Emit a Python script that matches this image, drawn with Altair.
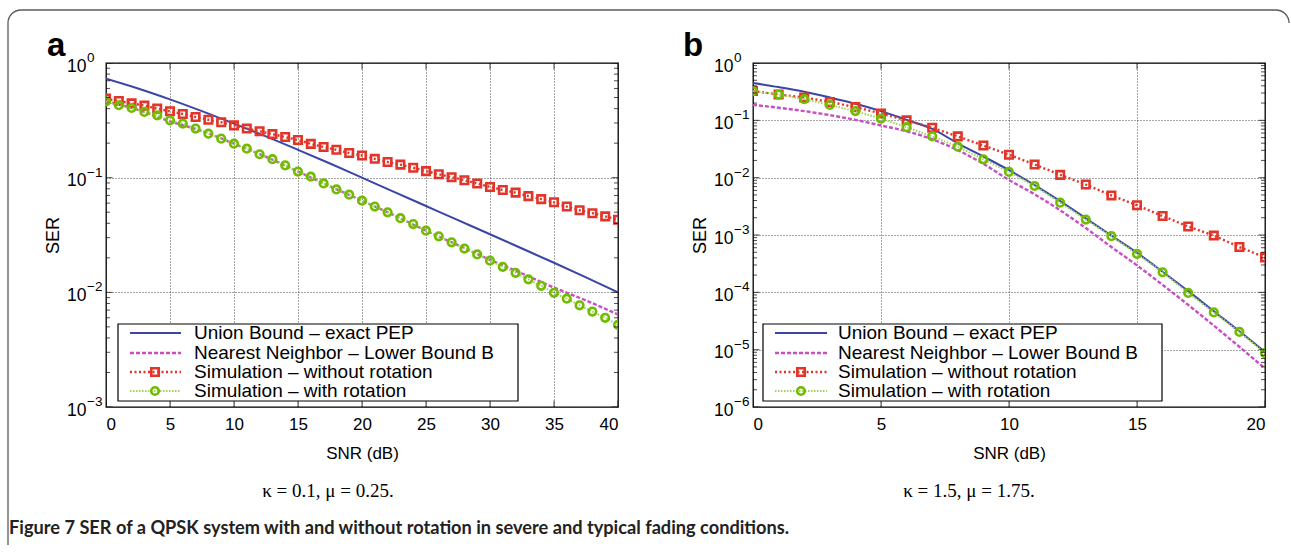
import altair as alt
import pandas as pd

# ---------------- data: panel a (kappa=0.1, mu=0.25) ----------------
snr_a_line = [0, 2.5, 5, 7.5, 10, 12.5, 15, 17.5, 20, 22.5, 25, 27.5, 30, 32.5, 35, 37.5, 40]
union_a = [0.730, 0.600, 0.482, 0.380, 0.296, 0.229, 0.175, 0.133, 0.100, 0.0752, 0.0566,
           0.0426, 0.0321, 0.0241, 0.0181, 0.0135, 0.0100]
nn_a = [0.463, 0.39, 0.31, 0.255, 0.198, 0.152, 0.113, 0.084, 0.063, 0.0470, 0.0345,
        0.0258, 0.0192, 0.0146, 0.0110, 0.0085, 0.0064]
snr_a = list(range(0, 41))
norot_a = [0.489, 0.466, 0.445, 0.425, 0.400, 0.379, 0.359, 0.338, 0.320, 0.304, 0.286,
           0.268, 0.254, 0.240, 0.226, 0.213, 0.197, 0.185, 0.175, 0.164, 0.156,
           0.146, 0.137, 0.130, 0.122, 0.114, 0.107, 0.101, 0.095, 0.089, 0.083,
           0.078, 0.074, 0.069, 0.065, 0.061, 0.056, 0.052, 0.049, 0.046, 0.043]
rot_a = [0.463, 0.428, 0.405, 0.374, 0.350, 0.316, 0.296, 0.268, 0.242, 0.219, 0.198,
         0.179, 0.160, 0.145, 0.128, 0.113, 0.102, 0.089, 0.079, 0.071, 0.063,
         0.056, 0.0499, 0.0443, 0.0394, 0.0345, 0.0308, 0.0273, 0.0241, 0.0214, 0.0189,
         0.0167, 0.0148, 0.0130, 0.0114, 0.0099, 0.0088, 0.0077, 0.0068, 0.0060, 0.0052]

# ---------------- data: panel b (kappa=1.5, mu=1.75) ----------------
snr_b = list(range(0, 21))
union_b = [0.447, 0.380, 0.316, 0.251, 0.195, 0.145, 0.102, 0.0708, 0.0398, 0.0234, 0.0135,
           0.00741, 0.00389, 0.00195, 0.000977, 0.000490, 0.000229, 0.000105, 0.0000468,
           0.0000209, 0.0000091]
nn_b = [0.186, 0.166, 0.145, 0.123, 0.102, 0.0813, 0.0646, 0.0468, 0.0302, 0.0174, 0.00912,
        0.00513, 0.00269, 0.00132, 0.000617, 0.000295, 0.000135, 0.0000603, 0.0000263,
        0.0000112, 0.0000047]
norot_b = [0.324, 0.282, 0.251, 0.209, 0.170, 0.132, 0.100, 0.0741, 0.0525, 0.0363, 0.0251,
           0.0170, 0.0112, 0.00759, 0.00490, 0.00331, 0.00214, 0.00141, 0.000977, 0.000617,
           0.000407]
rot_b = [0.324, 0.282, 0.234, 0.186, 0.145, 0.107, 0.0759, 0.0525, 0.0347, 0.0209, 0.0126,
         0.00716, 0.00367, 0.00186, 0.000955, 0.000468, 0.000224, 0.0000977, 0.0000447,
         0.0000204, 0.0000087]

legend_labels = ["Union Bound \u2013 exact PEP", "Nearest Neighbor \u2013 Lower Bound B",
                 "Simulation \u2013 without rotation", "Simulation \u2013 with rotation"]
xticks_a = [0, 5, 10, 15, 20, 25, 30, 35, 40]
xticks_b = [0, 5, 10, 15, 20]
yticks_a = [1, 0.1, 0.01, 0.001]
yexp_a = ["0", "\u22121", "\u22122", "\u22123"]
yticks_b = [1, 0.1, 0.01, 0.001, 0.0001, 0.00001, 0.000001]
yexp_b = ["0", "\u22121", "\u22122", "\u22123", "\u22124", "\u22125", "\u22126"]

# ---------------- styles ----------------
SANS = "Liberation Sans, Arial, Helvetica, sans-serif"
SERIF = "Liberation Serif, DejaVu Serif, serif"
BLUE = "#3b45a6"
MAGENTA = "#c84ec2"
RED = "#e23428"
GREEN = "#70bd00"
GREEN_L = "#9fd35a"
W, H = 512, 344

one = pd.DataFrame({"k": [0]})


def panel(letter, caption, cap_x, xdom, xt, yt, yexp, lx, ly_rows, box,
          xl, yl, xm, ym, leg_geo):
    xsc = alt.Scale(domain=xdom, nice=False, zero=False)
    ysc = alt.Scale(type="log", domain=[min(yt), 1], nice=False)
    xaxis = alt.Axis(values=xt, title="SNR (dB)", grid=True, ticks=False, domain=False,
                     labelFontSize=17, labelPadding=9, labelFont=SANS, labelColor="#000",
                     titleFont=SANS, titleFontSize=17, titleFontWeight="normal",
                     titleColor="#000", titleBaseline="middle", titleY=46, titleX=W / 2,
                     gridColor="#222", gridDash=[1, 2], gridWidth=0.8, gridOpacity=1)
    yaxis = alt.Axis(values=yt, title="SER", grid=True, ticks=False, domain=False,
                     labels=False, titleFont=SANS, titleFontSize=18,
                     titleFontWeight="normal", titleColor="#000", titleX=-53,
                     titleY=H / 2, titleAngle=270, titleBaseline="middle",
                     titleAlign="center",
                     gridColor="#222", gridDash=[1, 2], gridWidth=0.8, gridOpacity=1)

    X = alt.X("x:Q", scale=xsc, axis=xaxis)
    Y = alt.Y("y:Q", scale=ysc, axis=yaxis)

    d_union = pd.DataFrame({"x": xl, "y": yl[0]})
    d_nn = pd.DataFrame({"x": xl, "y": yl[1]})
    d_norot = pd.DataFrame({"x": xm, "y": ym[0]})
    d_rot = pd.DataFrame({"x": xm, "y": ym[1]})

    layers = []
    layers.append(alt.Chart(d_union).mark_line(color=BLUE, strokeWidth=2, clip=True,
                                               interpolate="monotone")
                  .encode(x=X, y=Y))
    layers.append(alt.Chart(d_nn).mark_line(color=MAGENTA, strokeWidth=2.4,
                                            strokeDash=[4, 2], clip=True,
                                            interpolate="monotone")
                  .encode(x=X, y=Y))
    layers.append(alt.Chart(d_norot).mark_line(color=RED, strokeWidth=2.4,
                                               strokeDash=[2, 2.5], clip=True)
                  .encode(x=X, y=Y))
    layers.append(alt.Chart(d_norot).mark_point(shape="square", filled=False, size=56,
                                                strokeWidth=2.6, color=RED, opacity=1,
                                                clip=True)
                  .encode(x=X, y=Y))
    layers.append(alt.Chart(d_rot).mark_line(color=GREEN_L, strokeWidth=2,
                                             strokeDash=[1.5, 1.5], clip=True)
                  .encode(x=X, y=Y))
    layers.append(alt.Chart(d_rot).mark_point(shape="circle", filled=False, size=58,
                                              strokeWidth=2.6, color=GREEN, opacity=1,
                                              clip=True)
                  .encode(x=X, y=Y))

    # inward ticks (clipped half-ticks at the frame)
    minor = [m * 10.0 ** e for e in range(-6, 0) for m in range(2, 10)]
    minor = [v for v in minor if v > min(yt)]
    for xv in xdom:
        dmin = pd.DataFrame({"x": [xv] * len(minor), "y": minor})
        dmaj = pd.DataFrame({"x": [xv] * len(yt), "y": yt})
        layers.append(alt.Chart(dmin).mark_tick(orient="horizontal", size=8, thickness=1,
                                                color="#000", clip=True)
                      .encode(x=X, y=Y))
        layers.append(alt.Chart(dmaj).mark_tick(orient="horizontal", size=13, thickness=1,
                                                color="#000", clip=True)
                      .encode(x=X, y=Y))
    for yv in [min(yt), 1]:
        dx = pd.DataFrame({"x": xt, "y": [yv] * len(xt)})
        layers.append(alt.Chart(dx).mark_tick(orient="vertical", size=13, thickness=1,
                                              color="#000", clip=True)
                      .encode(x=X, y=Y))

    # y tick labels 10^k
    dlab = pd.DataFrame({"y": yt, "b": ["10"] * len(yt), "e": yexp})
    layers.append(alt.Chart(dlab)
                  .mark_text(align="left", baseline="alphabetic", fontSize=17.5,
                             font=SANS, color="#000", dy=8.5)
                  .encode(x=alt.value(-39), y=Y, text="b:N"))
    layers.append(alt.Chart(dlab)
                  .mark_text(align="left", baseline="alphabetic", fontSize=13.5,
                             font=SANS, color="#000", dy=-1)
                  .encode(x=alt.value(-19), y=Y, text="e:N"))

    # legend
    bx0, bx1, by0, by1 = box
    lx0, lx1, mx, tx = leg_geo
    layers.append(alt.Chart(one).mark_rect(fill="white", stroke="#000", strokeWidth=1.2)
                  .encode(x=alt.value(bx0), x2=alt.value(bx1), y=alt.value(by0),
                          y2=alt.value(by1)))
    styles = [dict(color=BLUE, strokeWidth=2.2),
              dict(color=MAGENTA, strokeWidth=2.4, strokeDash=[4, 2]),
              dict(color=RED, strokeWidth=2.4, strokeDash=[2, 2.5]),
              dict(color=GREEN_L, strokeWidth=2, strokeDash=[1.5, 1.5])]
    for i, (lab, st) in enumerate(zip(legend_labels, styles)):
        ry = ly_rows[i]
        layers.append(alt.Chart(one).mark_rule(**st)
                      .encode(x=alt.value(lx0), x2=alt.value(lx1), y=alt.value(ry)))
        layers.append(alt.Chart(one).mark_text(text=lab, align="left", baseline="middle",
                                               fontSize=19, font=SANS, color="#000")
                      .encode(x=alt.value(tx), y=alt.value(ry)))
    layers.append(alt.Chart(one).mark_point(shape="square", filled=False, size=56,
                                            strokeWidth=2.6, color=RED, opacity=1)
                  .encode(x=alt.value(mx), y=alt.value(ly_rows[2])))
    layers.append(alt.Chart(one).mark_point(shape="circle", filled=False, size=58,
                                            strokeWidth=2.6, color=GREEN, opacity=1)
                  .encode(x=alt.value(mx), y=alt.value(ly_rows[3])))

    # panel letter and sub-caption
    layers.append(alt.Chart(one).mark_text(text=letter, align="left", baseline="alphabetic",
                                           fontSize=33, fontWeight="bold", font=SANS,
                                           color="#000")
                  .encode(x=alt.value(lx), y=alt.value(-7)))
    layers.append(alt.Chart(one).mark_text(text=caption, align="center", baseline="middle",
                                           fontSize=19, font=SERIF, color="#000")
                  .encode(x=alt.value(cap_x), y=alt.value(428)))
    return layers


layers_a = panel("a", "\u03ba = 0.1, \u03bc = 0.25.", 222, [0, 40], xticks_a, yticks_a,
                 yexp_a, -59, [270, 290, 309, 328], (12, 412, 261, 338),
                 snr_a_line, [union_a, nn_a], snr_a, [norot_a, rot_a], (24, 75, 49, 88))
# outer frame of the figure and the figure caption (anchored to panel a)
frame_col = "#5a5a5a"
layers_a.append(alt.Chart(one).mark_rule(color=frame_col, strokeWidth=1.3)
                .encode(x=alt.value(-85), x2=alt.value(1170), y=alt.value(-53)))
layers_a.append(alt.Chart(one).mark_rule(color=frame_col, strokeWidth=1.3)
                .encode(x=alt.value(-98), y=alt.value(-40), y2=alt.value(482)))
layers_a.append(alt.Chart(one).mark_arc(theta=4.712, theta2=6.283, radius=13.65,
                                        radius2=12.35, color=frame_col)
                .encode(x=alt.value(-85), y=alt.value(-40)))
layers_a.append(alt.Chart(one).mark_arc(theta=0.0, theta2=1.571, radius=13.65,
                                        radius2=12.35, color=frame_col)
                .encode(x=alt.value(1170), y=alt.value(-40)))
layers_a.append(alt.Chart(one).mark_text(
    text="Figure 7 SER of a QPSK system with and without rotation in severe and typical fading conditions.",
    align="left", baseline="middle", fontSize=18.2, fontWeight="bold",
    font="Lato, Liberation Sans Narrow, sans-serif",
    color="#222").encode(x=alt.value(-97), y=alt.value(466)))

layers_b = panel("b", "\u03ba = 1.5, \u03bc = 1.75.", 216, [0, 20], xticks_b, yticks_b,
                 yexp_b, -70, [270, 290, 309, 328], (10, 409, 261, 338),
                 snr_b, [union_b, nn_b], snr_b, [norot_b, rot_b], (22, 74, 48, 85))

pa = alt.layer(*layers_a).properties(width=W, height=H)
pb = alt.layer(*layers_b).properties(width=W, height=H)

chart = (alt.hconcat(pa, pb, spacing=135, bounds="flush")
         .properties(padding={"left": 6, "top": 8, "right": 0, "bottom": 0},
                     background="white")
         .configure_view(stroke="#000", strokeWidth=1.3))

chart.save("out.html", embed_options={"renderer": "svg", "actions": False})
